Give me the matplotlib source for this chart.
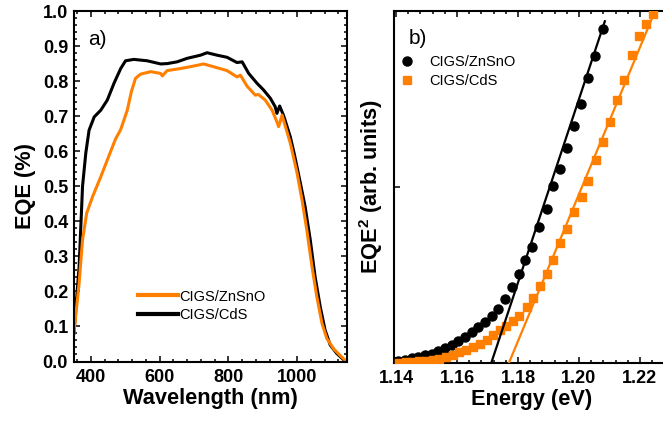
import numpy as np
import matplotlib
matplotlib.use("Agg")
import matplotlib.pyplot as plt
from matplotlib.ticker import MultipleLocator
from matplotlib.lines import Line2D

plt.rcParams['font.family'] = ['Liberation Sans', 'DejaVu Sans']
plt.rcParams['mathtext.fontset'] = 'custom'
plt.rcParams['mathtext.rm'] = 'Liberation Sans'
plt.rcParams['mathtext.bf'] = 'Liberation Sans:bold'

ORANGE = '#ff8000'

# panel a) EQE spectra
wl_cds = [351, 366, 376, 385.5, 395, 410, 429, 448, 467.5, 487, 501, 525, 564, 603, 622,
          651, 680, 719, 738, 767, 796, 825, 840, 859, 883, 902, 922, 936, 941, 949, 960,
          980, 992, 1009, 1023, 1038, 1052, 1067, 1081, 1096, 1115, 1134, 1140]
eqe_cds = [0.081, 0.27, 0.50, 0.595, 0.66, 0.698, 0.717, 0.746, 0.794, 0.836, 0.858, 0.862,
           0.858, 0.849, 0.85, 0.855, 0.865, 0.874, 0.881, 0.874, 0.868, 0.853, 0.855, 0.822,
           0.794, 0.775, 0.751, 0.727, 0.708, 0.729, 0.703, 0.641, 0.59, 0.51, 0.442, 0.347,
           0.242, 0.156, 0.090, 0.047, 0.023, 0.006, 0.0]

wl_zto = [351, 366, 376, 388, 405, 429, 448, 472, 487, 506, 518, 530, 545, 574, 603, 608,
          622, 661, 699, 728, 757, 796, 825, 835, 854, 878, 887, 907, 927, 941, 946, 956,
          980, 999, 1014, 1028, 1043, 1057, 1072, 1086, 1106, 1125, 1140]
eqe_zto = [0.081, 0.223, 0.347, 0.423, 0.470, 0.527, 0.575, 0.635, 0.662, 0.717, 0.77,
           0.808, 0.820, 0.827, 0.822, 0.815, 0.83, 0.836, 0.843, 0.849, 0.841, 0.830,
           0.812, 0.817, 0.786, 0.760, 0.762, 0.746, 0.717, 0.684, 0.67, 0.703, 0.623,
           0.541, 0.461, 0.375, 0.271, 0.185, 0.109, 0.066, 0.036, 0.017, 0.003]

# panel b) EQE^2 vs energy
e_zto = [1.1387, 1.1408, 1.1430, 1.1451, 1.1473, 1.1495, 1.1517, 1.1539, 1.1561, 1.1583,
         1.1604, 1.1626, 1.1648, 1.1670, 1.1692, 1.1714, 1.1734, 1.1757, 1.1781, 1.1802,
         1.1822, 1.1846, 1.1870, 1.1894, 1.1914, 1.1938, 1.1962, 1.1985, 1.2006, 1.2030,
         1.2054, 1.2078]
v_zto = [0.008, 0.011, 0.017, 0.023, 0.030, 0.040, 0.049, 0.064, 0.081, 0.102, 0.125,
         0.144, 0.172, 0.201, 0.229, 0.267, 0.305, 0.362, 0.428, 0.504, 0.583, 0.66,
         0.769, 0.873, 1.006, 1.100, 1.223, 1.347, 1.470, 1.617, 1.744, 1.896]

e_cds = [1.1410, 1.1432, 1.1454, 1.1476, 1.1498, 1.1520, 1.1542, 1.1564, 1.1586, 1.1608,
         1.1630, 1.1652, 1.1675, 1.1697, 1.1719, 1.1741, 1.1761, 1.1783, 1.1804, 1.1829,
         1.1848, 1.1872, 1.1894, 1.1914, 1.1938, 1.1962, 1.1985, 1.2009, 1.2031, 1.2056,
         1.2080, 1.2102, 1.2124, 1.2149, 1.2173, 1.2198, 1.2220, 1.2244]
v_cds = [0.0, 0.002, 0.004, 0.007, 0.010, 0.014, 0.021, 0.034, 0.045, 0.059, 0.074, 0.091,
         0.106, 0.129, 0.158, 0.184, 0.210, 0.235, 0.267, 0.318, 0.366, 0.437, 0.504, 0.583,
         0.678, 0.760, 0.854, 0.939, 1.034, 1.152, 1.252, 1.366, 1.492, 1.608, 1.748,
         1.858, 1.928, 1.985]

# linear fits (intercept, slope, end)
fit_zto = (1.1713, 52.2, 1.2085)
fit_cds = (1.1771, 41.8, 1.2265)

fig = plt.figure(figsize=(6.63, 4.24), dpi=100)
ax1 = fig.add_axes([0.111, 0.1474, 0.4125, 0.8266])
ax2 = fig.add_axes([0.594, 0.145, 0.4172, 0.829])

for ax in (ax1, ax2):
    for s in ax.spines.values():
        s.set_linewidth(1.5)
    ax.tick_params(which='both', direction='in', top=True, right=True, width=1.1)
    ax.tick_params(which='major', length=4.5)
    ax.tick_params(which='minor', length=2.5)
    ax.tick_params(axis='x', pad=5.5)
    ax.tick_params(axis='y', pad=4)

# ---- panel a
ax1.plot(wl_cds, eqe_cds, color='black', lw=2.2)
ax1.plot(wl_zto, eqe_zto, color=ORANGE, lw=2.2)
ax1.set_xlim(350, 1145)
ax1.set_ylim(0, 1.0)
ax1.xaxis.set_minor_locator(MultipleLocator(40))
ax1.yaxis.set_minor_locator(MultipleLocator(0.02))
ax1.set_yticks(np.arange(0, 1.01, 0.1))
ax1.set_yticklabels(['%.1f' % v for v in np.arange(0, 1.01, 0.1)], fontweight='bold', fontsize=13)
ax1.set_xticks([400, 600, 800, 1000])
ax1.set_xticklabels(['400', '600', '800', '1000'], fontweight='bold', fontsize=13)
ax1.set_xlabel('Wavelength (nm)', fontsize=15.7, fontweight='bold', labelpad=1)
ax1.set_ylabel('EQE (%)', fontsize=15.7, fontweight='bold', labelpad=5)
ax1.text(0.053, 0.92, 'a)', transform=ax1.transAxes, fontsize=15, va='center', ha='left')
handles_a = [Line2D([], [], color=ORANGE, lw=3), Line2D([], [], color='black', lw=3)]
ax1.legend(handles_a, ['CIGS/ZnSnO', 'CIGS/CdS'], loc='center left',
           bbox_to_anchor=(0.236, 0.159), frameon=False, fontsize=10.5,
           handlelength=2.7, handletextpad=0.15, labelspacing=0.3,
           borderpad=0, borderaxespad=0)

# ---- panel b
ax2.plot(e_zto, v_zto, 'o', color='black', ms=6.5, zorder=2)
ax2.plot(e_cds, v_cds, 's', color=ORANGE, ms=5.5, mec=ORANGE, zorder=3)
for (e0, k, e1), c in ((fit_zto, 'black'), (fit_cds, ORANGE)):
    ee = np.array([e0, e1])
    ax2.plot(ee, k * (ee - e0), color=c, lw=1.6, zorder=4)
ax2.set_xlim(1.1393, 1.23)
ax2.set_ylim(0, 2.0)
ax2.set_xticks([1.14, 1.16, 1.18, 1.20, 1.22])
ax2.set_xticklabels(['1.14', '1.16', '1.18', '1.20', '1.22'], fontweight='bold', fontsize=13)
ax2.xaxis.set_minor_locator(MultipleLocator(0.004))
ax2.set_yticks([0, 1, 2])
ax2.set_yticklabels([])
ax2.tick_params(axis='y', which='minor', left=False, right=False)
ax2.set_xlabel('Energy (eV)', fontsize=15.7, fontweight='bold', labelpad=1)
ax2.set_ylabel('EQE$^{\\mathbf{2}}$ (arb. units)', fontsize=15.7, fontweight='bold', labelpad=2)
ax2.text(0.052, 0.923, 'b)', transform=ax2.transAxes, fontsize=15, va='center', ha='left')
handles_b = [Line2D([], [], ls='none', marker='o', color='black', ms=6.5),
             Line2D([], [], ls='none', marker='s', color=ORANGE, ms=5.5)]
ax2.legend(handles_b, ['CIGS/ZnSnO', 'CIGS/CdS'], loc='center left',
           bbox_to_anchor=(0.0216, 0.828), frameon=False, fontsize=10.5,
           handlelength=1.0, handletextpad=1.0, labelspacing=0.35,
           borderpad=0, borderaxespad=0)

fig.savefig('out.png', dpi=100)
